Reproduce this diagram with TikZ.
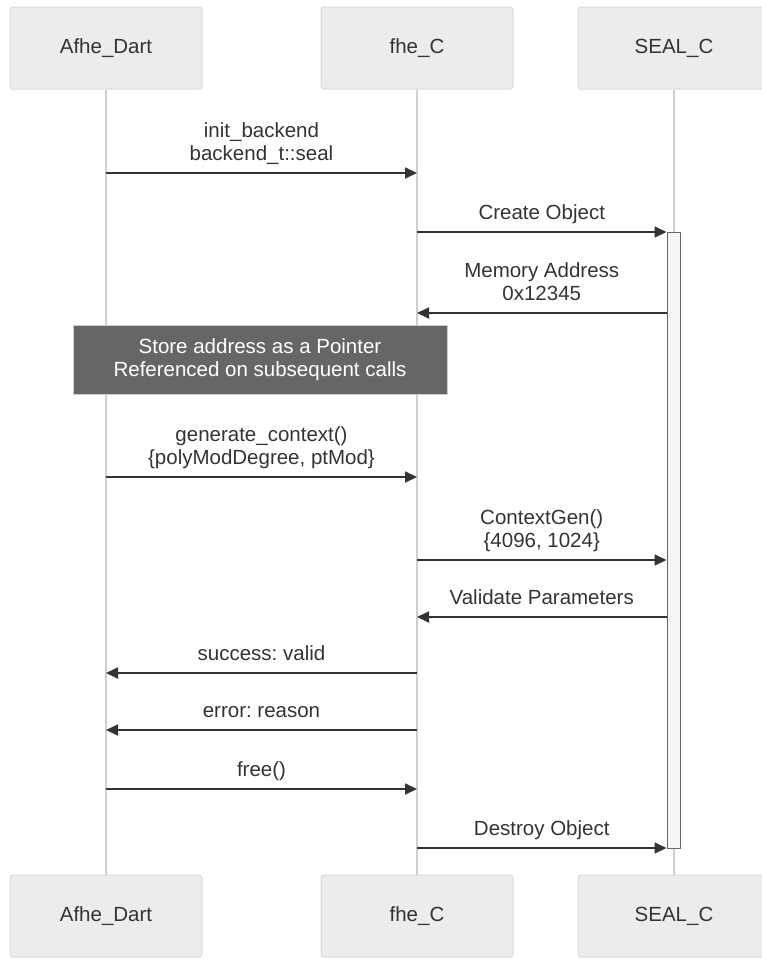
\documentclass[tikz,border=0pt]{standalone}
\usepackage{fontspec}
\setmainfont{Liberation Sans}
\frenchspacing
\usetikzlibrary{positioning,arrows.meta}

\definecolor{ink}{HTML}{333333}
\definecolor{boxfill}{HTML}{ECECEC}
\definecolor{boxline}{HTML}{DADADA}
\definecolor{lifegray}{HTML}{CFCFCF}
\definecolor{notefill}{HTML}{666666}

\tikzset{
  actor/.style={draw=boxline, line width=1pt, fill=boxfill, rounded corners=3pt,
    minimum width=192pt, minimum height=82pt, inner sep=0pt, text=ink},
  lifeline/.style={draw=lifegray, line width=2pt},
  msg/.style={draw=ink, line width=1.8pt, -{Triangle[length=12pt,width=11pt]}},
  lbl/.style={align=center, text=ink, inner sep=0pt, text depth=4pt, above=8pt},
  actbar/.style={draw=notefill, line width=1pt, fill=black!4, minimum width=13pt, inner sep=0pt},
  note/.style={draw=lifegray, line width=1pt, fill=notefill, text=white, align=center,
    minimum width=374pt, minimum height=69pt, inner sep=0pt},
}

\begin{document}
\begin{tikzpicture}[x=1pt, y=-1pt, font=\fontsize{20.5}{23}\selectfont]
\useasboundingbox (0,0) rectangle (761,959);

% participants
\node[actor] (dart) at (106,48) {Afhe\_Dart};
\node[actor, right=118pt of dart] (fhe) {fhe\_C};
\node[actor, right=64pt of fhe] (seal) {SEAL\_C};
\node[actor, below=785pt of dart] (dartB) {Afhe\_Dart};
\node[actor, below=785pt of fhe] (fheB) {fhe\_C};
\node[actor, below=785pt of seal] (sealB) {SEAL\_C};

\draw[lifeline] (dart) -- (dartB);
\draw[lifeline] (fhe) -- (fheB);
\draw[lifeline] (seal) -- (sealB);

% activation of SEAL_C
\node[actbar, minimum height=616pt, anchor=north] (bar) at (673.5,232) {};

% messages
\draw[msg] (dart |- 0,173) -- node[lbl] {init\_backend\\backend\_t::seal} (fhe |- 0,173);
\draw[msg] (fhe |- 0,232) -- node[lbl] {Create Object} (bar.west |- 0,232);
\draw[msg] (bar.west |- 0,313) -- node[lbl] {Memory Address\\0x12345} (fhe |- 0,313);

\node[note] (ptr) at (260,359.5) {Store address as a Pointer\\Referenced on subsequent calls};

\draw[msg] (dart |- 0,477) -- node[lbl] {generate\_context()\\\{polyModDegree, ptMod\}} (fhe |- 0,477);
\draw[msg] (fhe |- 0,560) -- node[lbl] {ContextGen()\\\{4096, 1024\}} (bar.west |- 0,560);
\draw[msg] (bar.west |- 0,617) -- node[lbl] {Validate Parameters} (fhe |- 0,617);
\draw[msg] (fhe |- 0,673) -- node[lbl] {success: valid} (dart |- 0,673);
\draw[msg] (fhe |- 0,730) -- node[lbl] {error: reason} (dart |- 0,730);
\draw[msg] (dart |- 0,789) -- node[lbl] {free()} (fhe |- 0,789);
\draw[msg] (fhe |- 0,848) -- node[lbl] {Destroy Object} (bar.west |- 0,848);
\end{tikzpicture}
\end{document}
